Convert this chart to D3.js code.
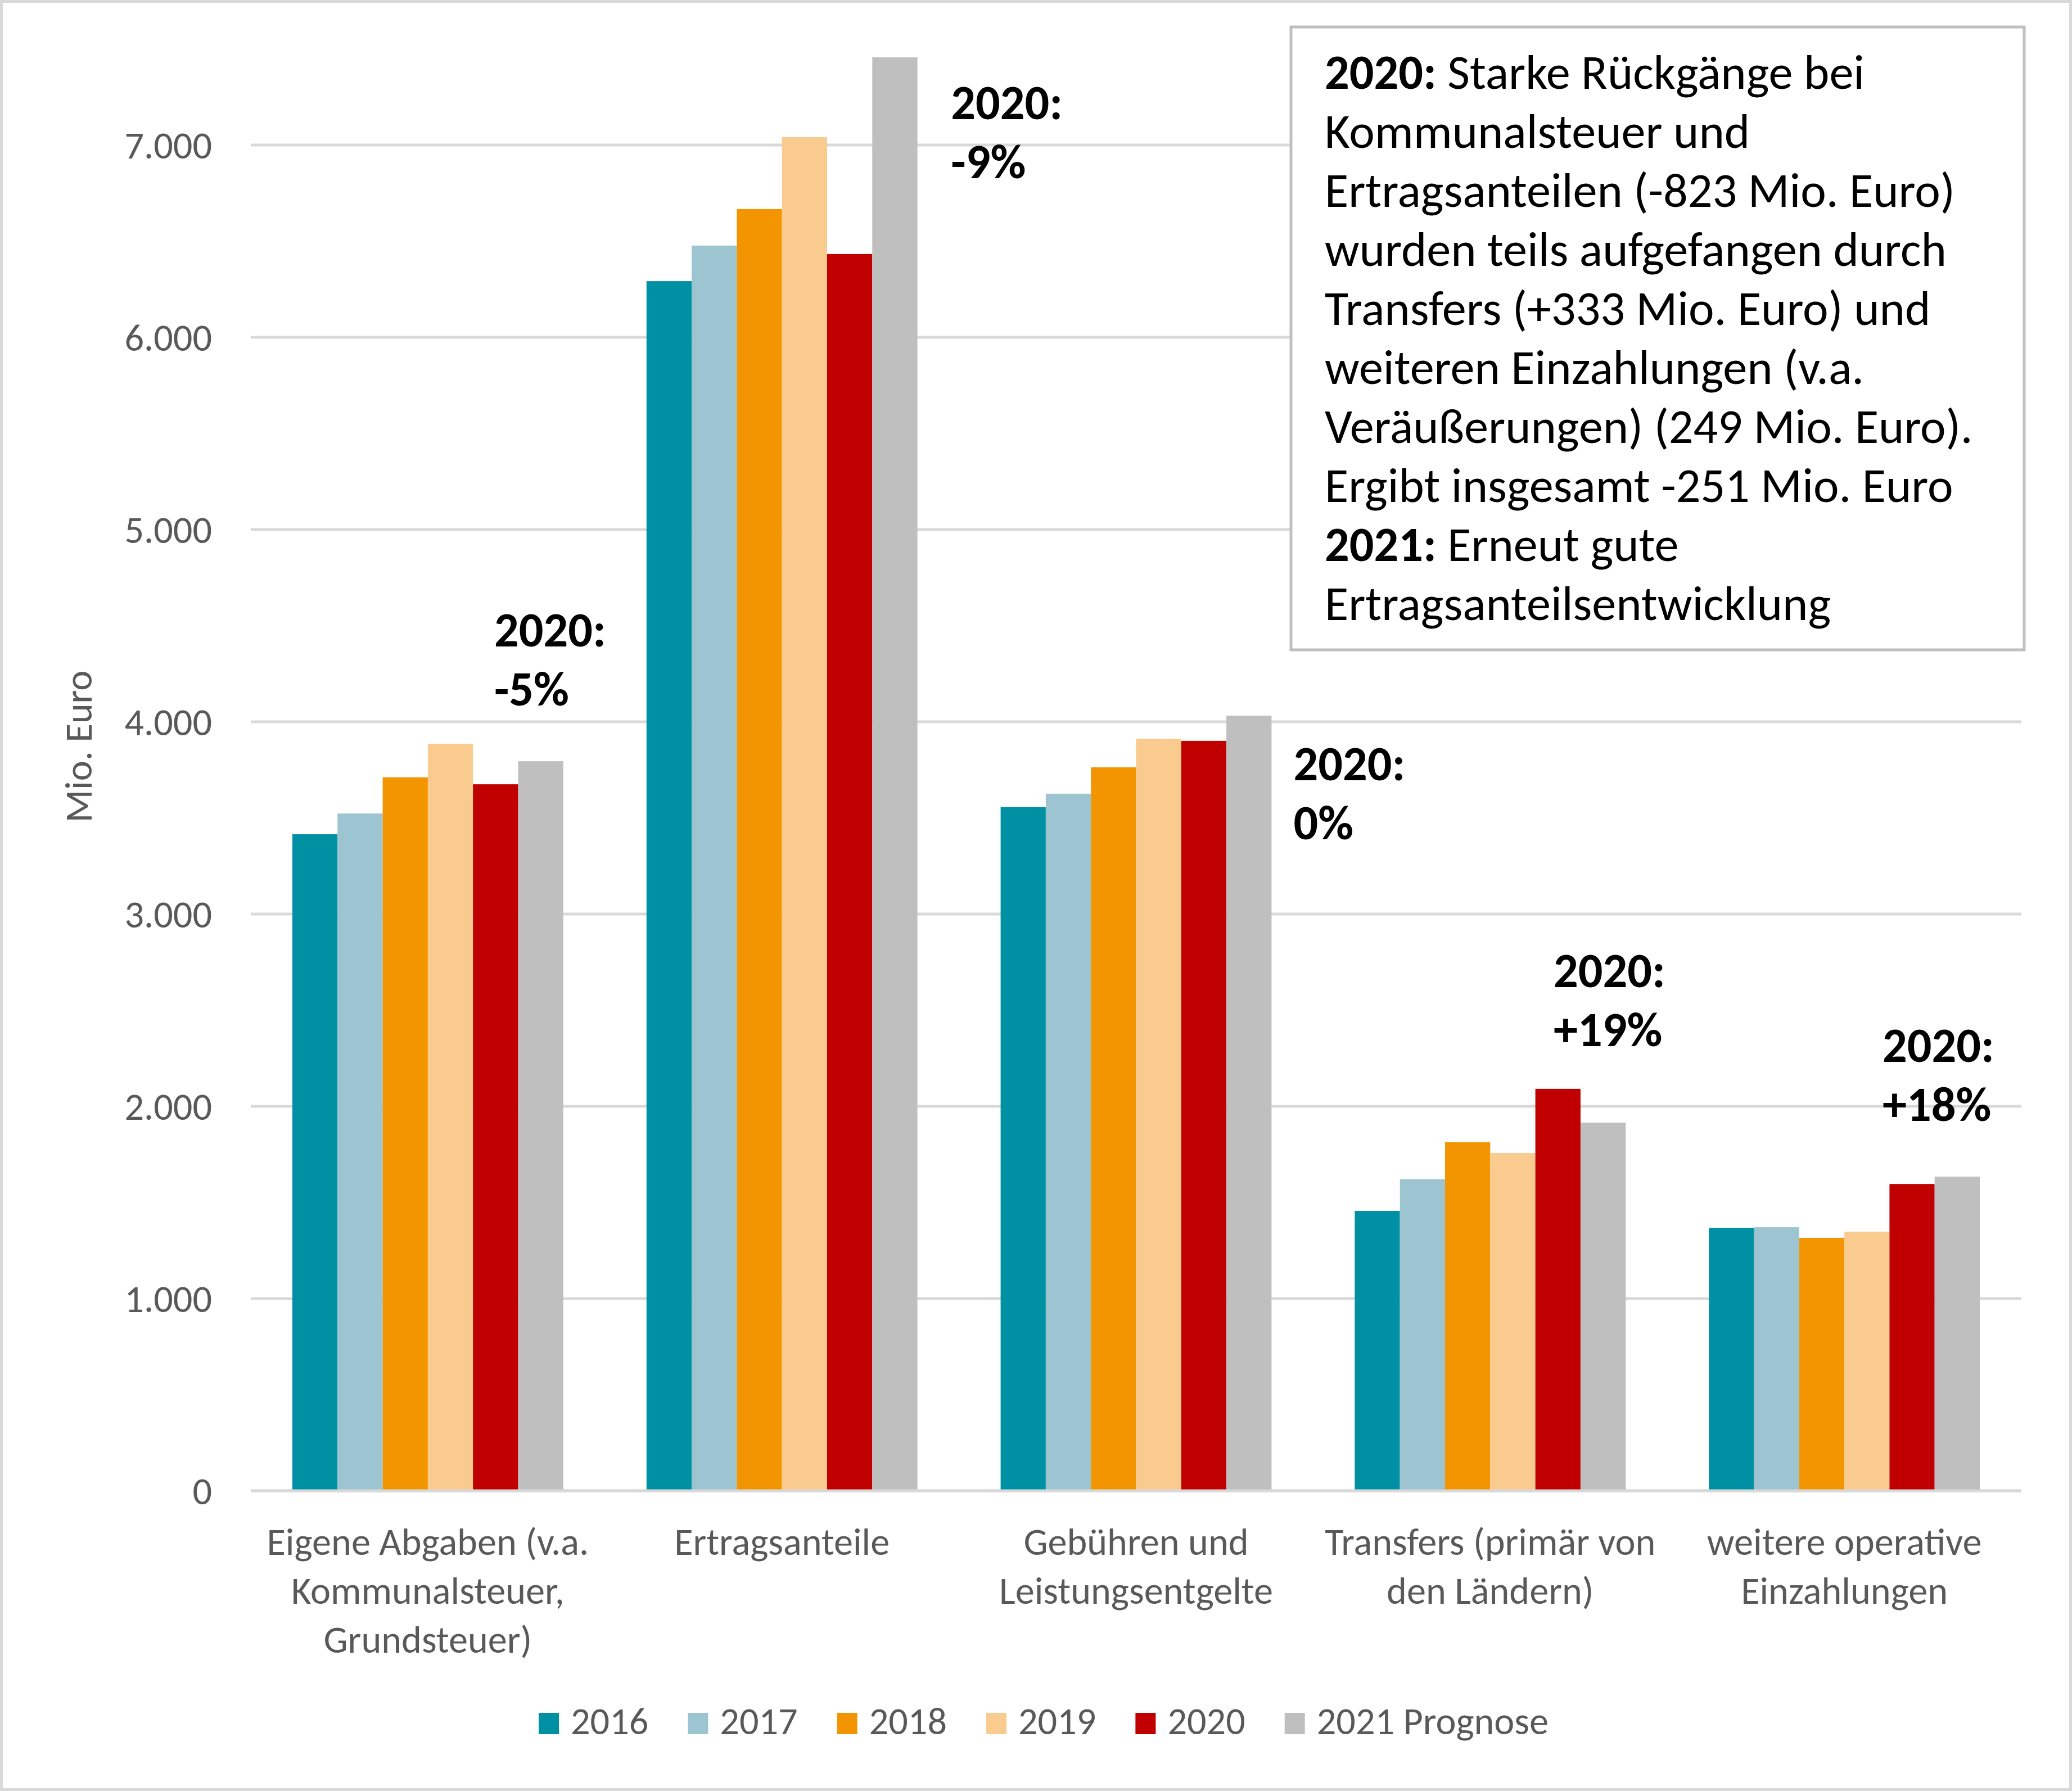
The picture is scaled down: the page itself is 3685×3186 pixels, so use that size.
<!DOCTYPE html>
<html>
<head>
<meta charset="utf-8">
<script src="https://cdn.jsdelivr.net/npm/d3@7"></script>
<style>
  body { margin: 0; background: #fff; }
</style>
</head>
<body>
<svg id="chart"></svg>
<script>
// Chart size (same as the reference picture)
const width = 3685;
const height = 3186;
const margin = { top: 87, right: 90, bottom: 534, left: 446 };

// ---- data ----
const categories = ["Eigene Abgaben", "Ertragsanteile", "Gebühren", "Transfers", "weitere"];
const categoryLines = [
    ["Eigene Abgaben (v.a.", "Kommunalsteuer,", "Grundsteuer)"],
    ["Ertragsanteile"],
    ["Gebühren und", "Leistungsentgelte"],
    ["Transfers (primär von", "den Ländern)"],
    ["weitere operative", "Einzahlungen"]
];
const years = ["2016", "2017", "2018", "2019", "2020", "2021 Prognose"];
const yearColors = ["#0090a3", "#9cc4d1", "#f29500", "#f9cb8e", "#c00000", "#bfbfbf"];

// Mio. Euro, one array per year, in category order
const values2016 = [3415, 6292, 3556, 1456, 1368];
const values2017 = [3523, 6477, 3626, 1621, 1371];
const values2018 = [3711, 6667, 3763, 1813, 1316];
const values2019 = [3886, 7041, 3912, 1757, 1348];
const values2020 = [3675, 6433, 3901, 2091, 1596];
const values2021 = [3795, 7456, 4032, 1915, 1634];
const seriesValues = [values2016, values2017, values2018, values2019, values2020, values2021];

const yTicks = [0, 1000, 2000, 3000, 4000, 5000, 6000, 7000];
const yMax = 7500;

// "2020: x%" notes next to each group
const changeLabels = ["-5%", "-9%", "0%", "+19%", "+18%"];
const changeAnchor = [4392, 7135, 3696, 2620, 2231];   // value level of the first line
const changeShift = [0.745, 1.124, 1.081, 0.734, 0.641]; // offset in group widths

// text box, [bold part, normal part]
const noteLines = [
    ["2020:", " Starke Rückgänge bei"],
    ["", "Kommunalsteuer und"],
    ["", "Ertragsanteilen (-823 Mio. Euro)"],
    ["", "wurden teils aufgefangen durch"],
    ["", "Transfers (+333 Mio. Euro) und"],
    ["", "weiteren Einzahlungen (v.a."],
    ["", "Veräußerungen) (249 Mio. Euro)."],
    ["", "Ergibt insgesamt -251 Mio. Euro"],
    ["2021:", " Erneut gute"],
    ["", "Ertragsanteilsentwicklung"]
];

const FONT = "Carlito, Calibri, Lato, 'Open Sans', sans-serif";
const grey = "#595959";

const svg = d3.select("#chart")
    .attr("width", width)
    .attr("height", height)
    .style("font-family", FONT);

// scale fonts so the replacement font is about as wide as Calibri
const probe = svg.append("text").attr("font-size", 86).text("Ertragsanteilen (-823 Mio. Euro)");
const k = 1121 / probe.node().getComputedTextLength();
probe.remove();
const fs = s => s * k;

// outer frame
svg.append("rect")
    .attr("x", 2.5).attr("y", 2.5)
    .attr("width", width - 5).attr("height", height - 5)
    .attr("fill", "#fff")
    .attr("stroke", "#d9d9d9")
    .attr("stroke-width", 5);

// scales
const x0 = d3.scaleBand()
    .domain(categories)
    .range([margin.left, width - margin.right])
    .paddingInner(0.235)
    .paddingOuter(0.1175);

const x1 = d3.scaleBand()
    .domain(years)
    .range([0, x0.bandwidth()]);

const y = d3.scaleLinear()
    .domain([0, yMax])
    .range([height - margin.bottom, margin.top]);

const fmt = d3.formatLocale({ decimal: ",", thousands: ".", grouping: [3], currency: ["", "€"] }).format(",");

// gridlines
svg.append("g")
    .selectAll("line")
    .data(yTicks)
    .join("line")
    .attr("x1", margin.left)
    .attr("x2", width - margin.right)
    .attr("y1", d => y(d))
    .attr("y2", d => y(d))
    .attr("stroke", "#d9d9d9")
    .attr("stroke-width", 5);

// y tick labels
svg.append("g")
    .selectAll("text")
    .data(yTicks)
    .join("text")
    .attr("x", 377)
    .attr("y", d => y(d))
    .attr("dy", "0.35em")
    .attr("text-anchor", "end")
    .attr("font-size", fs(68))
    .attr("fill", grey)
    .text(d => fmt(d));

// y axis title
svg.append("text")
    .attr("transform", `translate(163,1328) rotate(-90)`)
    .attr("text-anchor", "middle")
    .attr("font-size", fs(68))
    .attr("fill", grey)
    .text("Mio. Euro");

// bars
const groups = svg.append("g")
    .selectAll("g")
    .data(categories)
    .join("g")
    .attr("transform", d => `translate(${x0(d)},0)`);

groups.selectAll("rect")
    .data((d, ci) => years.map((yr, si) => ({ yr, si, v: seriesValues[si][ci] })))
    .join("rect")
    .attr("x", d => x1(d.yr))
    .attr("y", d => y(d.v))
    .attr("width", x1.bandwidth())
    .attr("height", d => y(0) - y(d.v))
    .attr("fill", d => yearColors[d.si]);

// baseline on top of the bars
svg.append("line")
    .attr("x1", margin.left)
    .attr("x2", width - margin.right)
    .attr("y1", y(0))
    .attr("y2", y(0))
    .attr("stroke", "#d9d9d9")
    .attr("stroke-width", 5);

// category labels
const xLab = svg.append("g")
    .selectAll("text")
    .data(categories)
    .join("text")
    .attr("x", d => x0(d) + x0.bandwidth() / 2)
    .attr("y", 2766)
    .attr("text-anchor", "middle")
    .attr("font-size", fs(68))
    .attr("fill", grey);

xLab.selectAll("tspan")
    .data((d, i) => categoryLines[i])
    .join("tspan")
    .attr("x", function () { return this.parentNode.getAttribute("x"); })
    .attr("dy", (d, i) => i === 0 ? 0 : 87)
    .text(d => d);

// "2020: x%" notes
const notes = svg.append("g")
    .selectAll("text")
    .data(categories)
    .join("text")
    .attr("x", (d, i) => x0(d) + changeShift[i] * x0.bandwidth())
    .attr("y", (d, i) => y(changeAnchor[i]))
    .attr("font-size", fs(86))
    .attr("font-weight", "bold")
    .attr("fill", "#000");

notes.selectAll("tspan")
    .data((d, i) => ["2020:", changeLabels[i]])
    .join("tspan")
    .attr("x", function () { return this.parentNode.getAttribute("x"); })
    .attr("dy", (d, i) => i === 0 ? 0 : 105)
    .text(d => d);

// text box
svg.append("rect")
    .attr("x", 2296)
    .attr("y", 48)
    .attr("width", 1304)
    .attr("height", 1108)
    .attr("fill", "#fff")
    .attr("stroke", "#bfbfbf")
    .attr("stroke-width", 5);

const boxText = svg.append("g")
    .selectAll("text")
    .data(noteLines)
    .join("text")
    .attr("x", 2356)
    .attr("y", (d, i) => 158 + i * 105)
    .attr("font-size", fs(86))
    .attr("fill", "#000");

boxText.append("tspan")
    .attr("font-weight", "bold")
    .text(d => d[0]);
boxText.append("tspan")
    .attr("xml:space", "preserve")
    .style("white-space", "pre")
    .text(d => d[1]);

// legend
const legend = svg.append("g");
const items = legend.selectAll("g")
    .data(years)
    .join("g");

items.append("rect")
    .attr("width", 36)
    .attr("height", 38)
    .attr("y", 3047)
    .attr("fill", (d, i) => yearColors[i]);

items.append("text")
    .attr("x", 57)
    .attr("y", 3085)
    .attr("font-size", fs(68))
    .attr("fill", grey)
    .text(d => d);

let pos = 0;
const offsets = [];
items.each(function () {
    offsets.push(pos);
    const tw = d3.select(this).select("text").node().getComputedTextLength();
    pos += 57 + tw + 70;
});
const total = pos - 70;
const start = 1856 - total / 2;
items.attr("transform", (d, i) => `translate(${start + offsets[i]},0)`);
</script>
</body>
</html>
